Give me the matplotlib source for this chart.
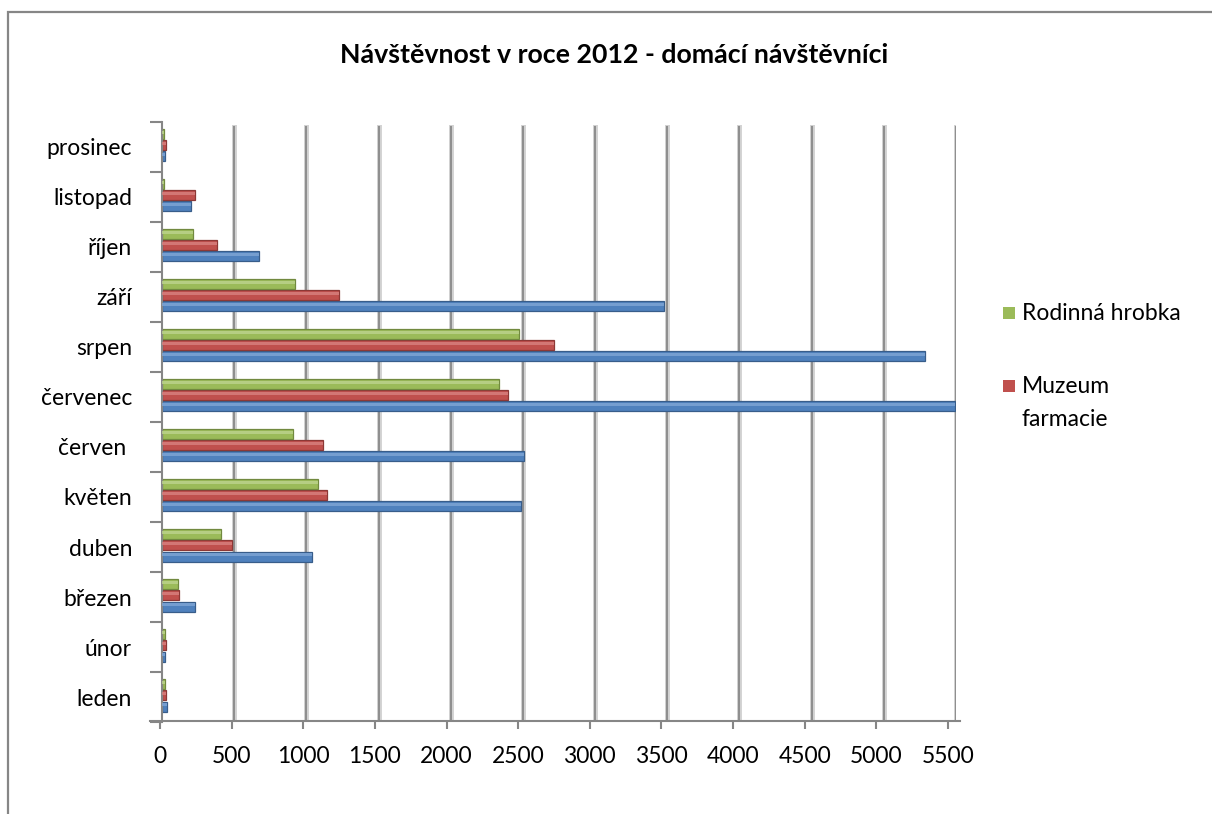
import matplotlib
matplotlib.use("Agg")
import matplotlib.pyplot as plt
from matplotlib.patches import Rectangle
from matplotlib.transforms import blended_transform_factory
import numpy as np

# ---- data ----
months = ['leden', 'únor', 'březen', 'duben', 'květen', 'červen ', 'červenec',
          'srpen', 'září', 'říjen', 'listopad', 'prosinec']
series_blue = [35, 20, 232, 1040, 2486, 2505, 5490, 5286, 3479, 675, 200, 20]
series_red = [28, 28, 120, 487, 1142, 1114, 2400, 2713, 1226, 381, 230, 25]
series_green = [20, 20, 114, 409, 1084, 907, 2333, 2476, 919, 216, 15, 15]
legend_labels = ['Rodinná hrobka', 'Muzeum\nfarmacie']
x_ticks = list(range(0, 5501, 500))
title = 'Návštěvnost v roce 2012 - domácí návštěvníci'

W, H = 1212, 814
plt.rcParams['font.family'] = ['Lato', 'DejaVu Sans']
FS = 16.5
fig = plt.figure(figsize=(W / 100, H / 100), dpi=100)
fig.patch.set_facecolor('white')

def fx(px):
    return px / W

def fy(py):
    return 1 - py / H

# outer border (extends beyond the picture on right/bottom)
fig.patches.append(Rectangle((fx(8), fy(H + 20)), fx(W + 40), fy(12) - fy(H + 20),
                             transform=fig.transFigure, fill=False,
                             edgecolor='#868686', linewidth=1.6))

# main plot axes: left at x=162 (value 0), right at 956 (5500); bottom 722, top 118
ax_left, ax_right, ax_top, ax_bottom = 162, 956, 118, 722
ax = fig.add_axes([fx(ax_left), fy(ax_bottom), fx(ax_right - ax_left), fy(ax_top) - fy(ax_bottom)])
ax.set_xlim(0, 5500)
px_per_cat = 50
ax.set_ylim(-0.5, -0.5 + (ax_bottom - ax_top) / px_per_cat)
ax.patch.set_alpha(0)

# gridlines
for v in x_ticks[1:]:
    ax.axvline(v, ymax=0.985, color='#d4d4d4', lw=3.6, zorder=0)
    ax.axvline(v, ymax=0.985, color='#8f8f8f', lw=1.5, zorder=0.5)

y = np.arange(len(months))
h = 0.2
specs = [
    (series_blue, -0.19, '#4F81BD', '#385D8A', '#7FA6D6'),
    (series_red, 0.035, '#C0504D', '#8C3836', '#D98280'),
    (series_green, 0.26, '#9BBB59', '#71893F', '#BDD48E'),
]
for vals, off, col, edge, hl in specs:
    ax.barh(y + off, vals, height=h, color=col, edgecolor=edge, linewidth=0.9, zorder=2)
    ax.barh(y + off + h * 0.18, vals, height=h * 0.3, color=hl, linewidth=0, zorder=3, alpha=0.8)

# spines
for s in ['top', 'right', 'bottom']:
    ax.spines[s].set_visible(False)
ax.spines['left'].set_color('#868686')
ax.spines['left'].set_linewidth(1.5)
ax.spines['left'].set_bounds(-0.5, len(months) - 0.5)
ax.set_xticks([])
ax.set_yticks(np.arange(-0.5, len(months), 1.0))
ax.set_yticklabels([])
ax.tick_params(axis='y', length=9, width=1.5, color='#868686', direction='out')

# category labels right-aligned at x=132px
trans = blended_transform_factory(fig.transFigure, ax.transData)
for i, m in enumerate(months):
    ax.text(fx(132), i - 0.04, m, transform=trans, ha='right', va='center',
            fontsize=FS, color='black')

# floor axis with value labels
fl_left, fl_right = 150, 960
fl = fig.add_axes([fx(fl_left), fy(721), fx(fl_right - fl_left), 0.0005])
scale = (948 - 160) / 5500.0
fl.set_xlim(-(160 - fl_left) / scale, 5500 + (fl_right - 948) / scale)
fl.set_yticks([])
fl.patch.set_alpha(0)
for s in ['top', 'right', 'left']:
    fl.spines[s].set_visible(False)
fl.spines['bottom'].set_color('#868686')
fl.spines['bottom'].set_linewidth(1.5)
fl.set_xticks(x_ticks)
fl.set_xticklabels([str(v) for v in x_ticks], fontsize=FS)
fl.tick_params(axis='x', length=6, width=1.5, color='#868686', pad=12)

# title
fig.text(fx(614), fy(55), title, ha='center', va='center', fontsize=19.3, fontweight='bold')

# legend (manual)
fig.patches.append(Rectangle((fx(1003), fy(319)), fx(12), fy(307) - fy(319),
                             transform=fig.transFigure, facecolor='#9BBB59', edgecolor='none'))
fig.text(fx(1022), fy(313), legend_labels[0], ha='left', va='center', fontsize=FS)
fig.patches.append(Rectangle((fx(1003), fy(392)), fx(12), fy(380) - fy(392),
                             transform=fig.transFigure, facecolor='#C0504D', edgecolor='none'))
fig.text(fx(1022), fy(376), legend_labels[1], ha='left', va='top', fontsize=FS, linespacing=1.7)

fig.savefig('out.png', dpi=100, facecolor='white')
